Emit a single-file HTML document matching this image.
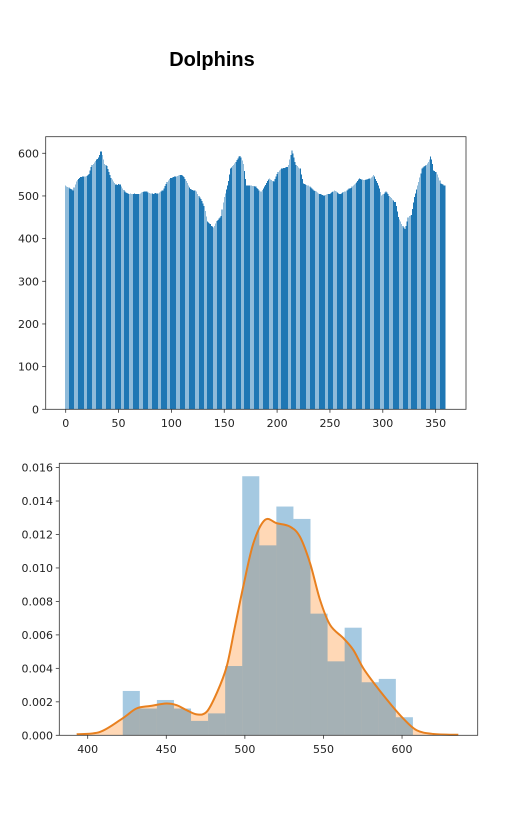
<!DOCTYPE html>
<html><head><meta charset="utf-8"><style>
body{margin:0;background:#fff;width:508px;height:822px;overflow:hidden}
svg{display:block}
text{font-family:"DejaVu Sans","Liberation Sans",sans-serif;font-size:11px;fill:#222}
</style></head><body>
<svg id="svg" width="508" height="822">
<text x="212" y="66" text-anchor="middle" style="font-family:'Liberation Sans',sans-serif;font-weight:bold;font-size:20px;fill:#000">Dolphins</text>
<g id="topchart"></g>
<g id="botchart"></g>
</svg>
<script>
const barValues=[524,522,521,520,518,516,515,513,520,527,
534,537,540,542,544,544,545,546,546,545,
547,549,551,560,568,572,575,578,582,585,
587,590,596,604,604,596,585,575,572,570,
563,556,549,542,538,534,530,527,527,526,
528,527,527,522,518,514,511,508,507,506,
505,506,505,504,505,506,505,505,504,505,
505,506,508,509,510,510,511,510,508,507,
506,506,506,505,506,507,506,506,506,508,
510,513,513,518,523,528,533,536,540,542,
542,543,544,545,546,545,547,548,549,549,
549,547,544,540,535,530,525,520,516,515,
514,513,513,513,510,505,500,496,493,488,
482,477,465,452,440,438,436,434,430,428,
426,430,436,441,444,447,450,453,468,485,
497,506,515,524,535,550,564,567,570,573,
576,580,584,588,592,594,590,583,575,558,
540,524,524,524,524,524,524,523,523,522,
522,519,516,513,510,510,514,518,522,526,
530,535,538,541,539,537,535,534,540,546,
552,556,560,562,564,564,565,566,567,568,
568,572,585,596,606,600,590,580,573,570,
567,564,564,550,540,529,528,527,526,525,
525,522,520,518,515,513,512,510,508,506,
505,504,503,502,501,501,502,503,504,505,
505,507,509,511,513,512,510,508,506,505,
505,506,508,509,510,511,513,515,517,517,
519,522,525,527,529,532,535,538,541,540,
539,538,537,537,538,539,540,541,541,543,
546,549,545,540,535,530,525,517,509,501,
503,505,508,510,508,505,500,498,495,492,
489,486,486,476,463,451,445,440,434,430,
426,422,430,440,450,453,454,455,470,485,
497,506,515,524,533,543,553,564,567,569,
570,572,576,580,586,592,586,575,560,558,
556,556,550,543,536,529,528,527,525,524];
const topXTicks=[0,50,100,150,200,250,300,350];
const topYTicks=[0,100,200,300,400,500,600];
const histEdgeStart=422.3, histBinWidth=10.86;
const histHeights=[0.00265,0.0016,0.00211,0.0016,0.00086,0.00131,0.00414,0.01548,0.01135,0.01367,0.01293,0.00727,0.00442,0.00643,0.00317,0.00337,0.00108];
const kdeX=[393,407.8,422,431,439.7,450,456.6,463,469.4,475.7,482,488.4,493.7,499,505.4,512.8,520.3,528.7,535,541.5,547.8,554.2,562.7,569,575.4,583.9,592.4,600.8,609.3,619.9,635.8];
const kdeY=[0.00006,0.0002,0.001,0.0016,0.00175,0.0019,0.0018,0.0015,0.00125,0.0014,0.0025,0.0041,0.0065,0.0089,0.01147,0.01287,0.01267,0.01247,0.01187,0.01028,0.0081,0.0066,0.0058,0.0051,0.004,0.0029,0.0019,0.001,0.0003,0.00008,0.00003];
const botXTicks=[400,450,500,550,600];
const botYTicks=[0,0.002,0.004,0.006,0.008,0.010,0.012,0.014,0.016];

const NS="http://www.w3.org/2000/svg";
function mk(parent,tag,attrs){const e=document.createElementNS(NS,tag);for(const k in attrs)e.setAttribute(k,attrs[k]);parent.appendChild(e);return e;}

const topG=document.getElementById('topchart');
const tx=v=>65.7+v*1.057, ty=v=>409.3-v*0.4267;
barValues.forEach((v,i)=>{
  const r=mk(topG,'rect',{x:tx(i-0.4),y:ty(v),width:0.8*1.057,height:ty(0)-ty(v),fill:'#1f77b4','shape-rendering':'crispEdges'});
  
  
});
const f1=mk(topG,'rect',{x:45.7,y:136.7,width:420.3,height:272.6,fill:'none',stroke:'#333','stroke-width':0.8});


topXTicks.forEach(t=>{
  mk(topG,'line',{x1:tx(t),x2:tx(t),y1:409.3,y2:412.8,stroke:'#333','stroke-width':0.8});
  const l=mk(topG,'text',{x:tx(t),y:427,'text-anchor':'middle'});l.textContent=t;
  
  
});
topYTicks.forEach(t=>{
  mk(topG,'line',{x1:42.2,x2:45.7,y1:ty(t),y2:ty(t),stroke:'#333','stroke-width':0.8});
  const l=mk(topG,'text',{x:39,y:ty(t)+4,'text-anchor':'end'});l.textContent=t;
  
  
});

const botG=document.getElementById('botchart');
const bx=v=>87.7+(v-400)*1.5717, by=v=>735.3-v*16735;
const pts=kdeX.map((x,i)=>[bx(x),by(kdeY[i])]);
function spline(p){
  let s='M'+p[0][0]+','+p[0][1];
  for(let i=0;i<p.length-1;i++){
    const p0=p[i-1]||p[i],p1=p[i],p2=p[i+1],p3=p[i+2]||p2;
    const c1=[p1[0]+(p2[0]-p0[0])/6,p1[1]+(p2[1]-p0[1])/6];
    const c2=[p2[0]-(p3[0]-p1[0])/6,p2[1]-(p3[1]-p1[1])/6];
    s+=' C'+c1[0]+','+c1[1]+' '+c2[0]+','+c2[1]+' '+p2[0]+','+p2[1];
  }
  return s;
}
const curve=spline(pts);
const fillD=curve+' L'+pts[pts.length-1][0]+','+by(0)+' L'+pts[0][0]+','+by(0)+' Z';
const kf=mk(botG,'path',{d:fillD,fill:'rgba(255,127,14,0.3)'});


histHeights.forEach((h,i)=>{
  const x0=histEdgeStart+i*histBinWidth;
  const r=mk(botG,'rect',{x:bx(x0),y:by(h),width:histBinWidth*1.5717,height:by(0)-by(h),fill:'rgba(31,119,180,0.4)'});
  
  
});
const kl=mk(botG,'path',{d:curve,fill:'none',stroke:'#e8801f','stroke-width':2,'stroke-linejoin':'round'});


const f2=mk(botG,'rect',{x:59.3,y:463.3,width:418.4,height:272,fill:'none',stroke:'#333','stroke-width':0.8});


botXTicks.forEach(t=>{
  mk(botG,'line',{x1:bx(t),x2:bx(t),y1:735.3,y2:738.8,stroke:'#333','stroke-width':0.8});
  const l=mk(botG,'text',{x:bx(t),y:753,'text-anchor':'middle'});l.textContent=t;
  
  
});
botYTicks.forEach(t=>{
  mk(botG,'line',{x1:55.8,x2:59.3,y1:by(t),y2:by(t),stroke:'#333','stroke-width':0.8});
  const l=mk(botG,'text',{x:53,y:by(t)+4,'text-anchor':'end'});l.textContent=t.toFixed(3);
  
  
});
</script>
</body></html>
